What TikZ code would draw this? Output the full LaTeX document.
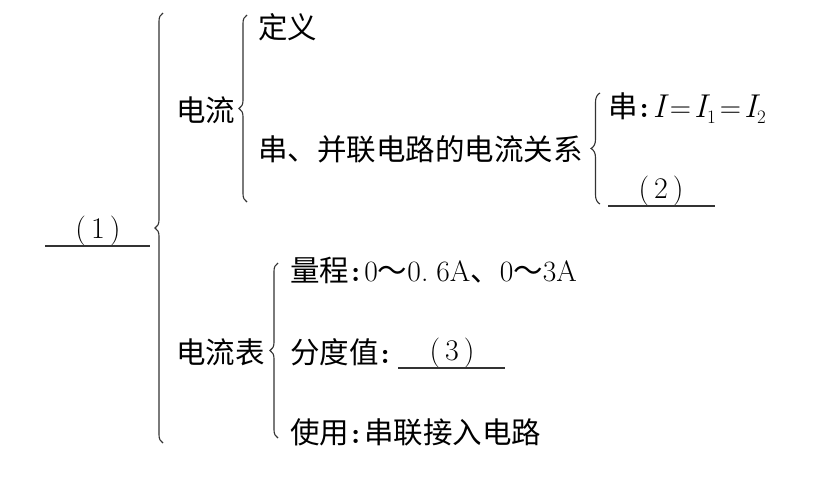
\documentclass[tikz,border=0pt]{standalone}
\usepackage{fontspec}
\newfontfamily\cjk{Noto Sans CJK SC}
\usetikzlibrary{decorations.pathreplacing}
\newcommand{\colonmark}{\hspace{2pt}{\bfseries :}\hspace{4pt}}
\newcommand{\bigI}{{\fontsize{33}{36}\selectfont\itshape I\/}}
\newcommand{\subnum}[1]{\raisebox{-6pt}{\fontsize{19}{22}\selectfont #1}}
\begin{document}
\begin{tikzpicture}[x=1pt,y=-1pt,
  txt/.style={anchor=west,inner sep=0pt,font=\fontsize{29.5}{34}\selectfont},
  num/.style={anchor=center,inner sep=0pt,font=\fontsize{30}{34}\selectfont},
  brc/.style={draw=black!80,line width=1.1pt,decorate,decoration={brace,amplitude=8pt}},
  blank/.style={draw=black!80,line width=1.1pt}]
\useasboundingbox (0,0) rectangle (813,488);
% level 0
\node[num] (n1) at (98,231) {(\,1\,)};
\coordinate (l1a) at (45,246); \coordinate (l1b) at (150,246);
\draw[blank] (l1a) -- (l1b);
\coordinate (b1t) at (163,13); \coordinate (b1b) at (163,443);
\draw[brc] (b1b) -- (b1t);
% 电流
\node[txt] (dl) at (176,110) {\cjk 电流};
\coordinate (b2t) at (247,15); \coordinate (b2b) at (247,202);
\draw[brc] (b2b) -- (b2t);
\node[txt] (dy) at (258,27) {\cjk 定义};
\node[txt] (gx) at (258,149) {\cjk 串、并联电路的电流关系};
\coordinate (b3t) at (600,93); \coordinate (b3b) at (600,204);
\draw[brc,decoration={amplitude=9pt}] (b3b) -- (b3t);
\node[txt] (ch) at (608,108) {{\cjk 串}\colonmark\bigI\hspace{1pt}=\hspace{3pt}\bigI\hspace{-3pt}\subnum{1}\hspace{4pt}=\hspace{3pt}\bigI\hspace{-3pt}\subnum{2}};
\node[num] (n2) at (661,191) {(\,2\,)};
\coordinate (l2a) at (608,206); \coordinate (l2b) at (715,206);
\draw[blank] (l2a) -- (l2b);
% 电流表
\node[txt] (dlb) at (176,352) {\cjk 电流表};
\coordinate (b4t) at (278,263); \coordinate (b4b) at (278,438);
\draw[brc] (b4b) -- (b4t);
\node[txt] (lc) at (290,270) {{\cjk 量程}\colonmark 0{\cjk ～}0.\hspace{8pt}6A{\cjk 、}0{\cjk ～}3A};
\node[txt] (fd) at (290,352) {{\cjk 分度值}\colonmark};
\node[num] (n3) at (452,353) {(\,3\,)};
\coordinate (l3a) at (398,368); \coordinate (l3b) at (505,368);
\draw[blank] (l3a) -- (l3b);
\node[txt] (sy) at (290,432) {{\cjk 使用}\colonmark{\cjk 串联接入电路}};
\end{tikzpicture}
\end{document}
